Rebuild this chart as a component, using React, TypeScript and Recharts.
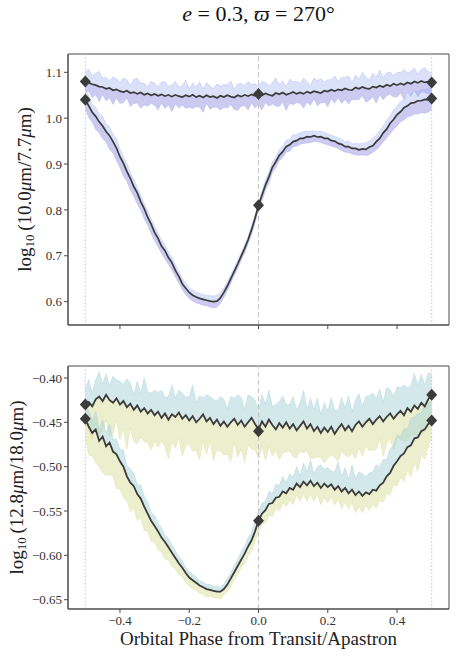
import React from 'react';
import { ComposedChart, Line, Area, Scatter, XAxis, YAxis, ReferenceLine, ReferenceArea } from 'recharts';

const phase = [
  -0.50, -0.49, -0.48, -0.47, -0.46, -0.45, -0.44, -0.43, -0.42, -0.41,
  -0.40, -0.39, -0.38, -0.37, -0.36, -0.35, -0.34, -0.33, -0.32, -0.31,
  -0.30, -0.29, -0.28, -0.27, -0.26, -0.25, -0.24, -0.23, -0.22, -0.21,
  -0.20, -0.19, -0.18, -0.17, -0.16, -0.15, -0.14, -0.13, -0.12, -0.11,
  -0.10, -0.09, -0.08, -0.07, -0.06, -0.05, -0.04, -0.03, -0.02, -0.01,
  0.00, 0.01, 0.02, 0.03, 0.04, 0.05, 0.06, 0.07, 0.08, 0.09,
  0.10, 0.11, 0.12, 0.13, 0.14, 0.15, 0.16, 0.17, 0.18, 0.19,
  0.20, 0.21, 0.22, 0.23, 0.24, 0.25, 0.26, 0.27, 0.28, 0.29,
  0.30, 0.31, 0.32, 0.33, 0.34, 0.35, 0.36, 0.37, 0.38, 0.39,
  0.40, 0.41, 0.42, 0.43, 0.44, 0.45, 0.46, 0.47, 0.48, 0.49,
  0.50,
];

// Top panel: log10(10.0um/7.7um)
const aMean = [
  1.080, 1.077, 1.074, 1.072, 1.069, 1.068, 1.064, 1.066, 1.061, 1.063,
  1.059, 1.057, 1.060, 1.055, 1.057, 1.053, 1.056, 1.051, 1.054, 1.050,
  1.053, 1.049, 1.052, 1.048, 1.051, 1.047, 1.051, 1.048, 1.046, 1.050,
  1.047, 1.051, 1.046, 1.049, 1.045, 1.050, 1.046, 1.048, 1.044, 1.049,
  1.046, 1.050, 1.047, 1.045, 1.050, 1.047, 1.051, 1.048, 1.052, 1.049,
  1.053, 1.050, 1.054, 1.051, 1.049, 1.055, 1.052, 1.056, 1.051, 1.054,
  1.057, 1.053, 1.056, 1.053, 1.058, 1.055, 1.059, 1.057, 1.055, 1.060,
  1.058, 1.062, 1.059, 1.063, 1.061, 1.065, 1.062, 1.061, 1.067, 1.064,
  1.068, 1.065, 1.064, 1.069, 1.067, 1.071, 1.068, 1.073, 1.070, 1.075,
  1.072, 1.076, 1.073, 1.078, 1.075, 1.080, 1.077, 1.081, 1.078, 1.080,
  1.078,
];
const aHi = [
  1.102, 1.107, 1.092, 1.098, 1.102, 1.088, 1.089, 1.082, 1.090, 1.086,
  1.078, 1.088, 1.084, 1.072, 1.085, 1.087, 1.077, 1.077, 1.069, 1.080,
  1.076, 1.068, 1.079, 1.080, 1.069, 1.072, 1.080, 1.068, 1.070, 1.083,
  1.064, 1.077, 1.068, 1.079, 1.064, 1.078, 1.070, 1.064, 1.075, 1.070,
  1.073, 1.073, 1.081, 1.063, 1.075, 1.076, 1.071, 1.080, 1.074, 1.075,
  1.070, 1.080, 1.078, 1.070, 1.077, 1.088, 1.073, 1.081, 1.069, 1.085,
  1.080, 1.080, 1.076, 1.087, 1.080, 1.071, 1.088, 1.082, 1.086, 1.079,
  1.084, 1.084, 1.092, 1.081, 1.089, 1.089, 1.092, 1.078, 1.094, 1.085,
  1.100, 1.090, 1.083, 1.098, 1.090, 1.105, 1.088, 1.099, 1.101, 1.093,
  1.100, 1.100, 1.106, 1.099, 1.102, 1.110, 1.096, 1.106, 1.110, 1.102,
  1.098,
];
const aLo = [
  1.056, 1.059, 1.045, 1.051, 1.036, 1.051, 1.038, 1.044, 1.030, 1.044,
  1.032, 1.034, 1.044, 1.025, 1.032, 1.033, 1.022, 1.029, 1.026, 1.032,
  1.028, 1.018, 1.033, 1.021, 1.029, 1.014, 1.031, 1.022, 1.029, 1.021,
  1.024, 1.021, 1.025, 1.024, 1.013, 1.032, 1.019, 1.024, 1.024, 1.018,
  1.024, 1.022, 1.030, 1.019, 1.017, 1.026, 1.027, 1.018, 1.033, 1.022,
  1.030, 1.018, 1.034, 1.026, 1.031, 1.026, 1.026, 1.034, 1.017, 1.033,
  1.029, 1.034, 1.032, 1.022, 1.035, 1.028, 1.042, 1.027, 1.033, 1.035,
  1.025, 1.042, 1.033, 1.045, 1.032, 1.041, 1.031, 1.040, 1.040, 1.041,
  1.049, 1.035, 1.039, 1.047, 1.033, 1.051, 1.040, 1.049, 1.052, 1.046,
  1.046, 1.055, 1.041, 1.055, 1.048, 1.061, 1.047, 1.057, 1.056, 1.052,
  1.053,
];
const bMean = [
  1.040, 1.027, 1.013, 1.004, 0.992, 0.983, 0.971, 0.962, 0.949, 0.935,
  0.916, 0.902, 0.884, 0.869, 0.851, 0.837, 0.818, 0.803, 0.784, 0.769,
  0.751, 0.738, 0.721, 0.711, 0.696, 0.685, 0.668, 0.655, 0.639, 0.629,
  0.620, 0.614, 0.610, 0.607, 0.605, 0.603, 0.601, 0.600, 0.601, 0.608,
  0.620, 0.634, 0.650, 0.666, 0.682, 0.699, 0.716, 0.735, 0.757, 0.782,
  0.810, 0.832, 0.854, 0.872, 0.893, 0.905, 0.919, 0.927, 0.938, 0.942,
  0.949, 0.951, 0.956, 0.956, 0.960, 0.959, 0.962, 0.959, 0.960, 0.956,
  0.956, 0.951, 0.950, 0.945, 0.943, 0.938, 0.938, 0.934, 0.934, 0.931,
  0.933, 0.932, 0.937, 0.940, 0.949, 0.956, 0.968, 0.976, 0.989, 0.997,
  1.008, 1.014, 1.023, 1.027, 1.033, 1.034, 1.038, 1.038, 1.041, 1.040,
  1.043,
];
const bHi = [
  1.058, 1.049, 1.029, 1.024, 1.009, 1.004, 0.986, 0.981, 0.965, 0.955,
  0.933, 0.916, 0.902, 0.882, 0.867, 0.849, 0.833, 0.814, 0.798, 0.781,
  0.764, 0.749, 0.735, 0.723, 0.709, 0.696, 0.680, 0.665, 0.651, 0.640,
  0.630, 0.625, 0.620, 0.618, 0.615, 0.614, 0.613, 0.612, 0.614, 0.620,
  0.630, 0.643, 0.659, 0.674, 0.691, 0.707, 0.724, 0.742, 0.765, 0.789,
  0.818, 0.841, 0.865, 0.882, 0.905, 0.916, 0.932, 0.939, 0.952, 0.954,
  0.964, 0.964, 0.968, 0.971, 0.971, 0.972, 0.972, 0.971, 0.971, 0.969,
  0.966, 0.963, 0.960, 0.957, 0.954, 0.948, 0.950, 0.944, 0.945, 0.944,
  0.945, 0.946, 0.950, 0.956, 0.963, 0.973, 0.983, 0.995, 1.005, 1.018,
  1.026, 1.036, 1.040, 1.050, 1.052, 1.058, 1.058, 1.063, 1.062, 1.066,
  1.065,
];
const bLo = [
  1.020, 1.001, 0.991, 0.975, 0.968, 0.955, 0.948, 0.932, 0.924, 0.908,
  0.892, 0.874, 0.862, 0.843, 0.830, 0.813, 0.799, 0.781, 0.766, 0.748,
  0.734, 0.719, 0.705, 0.693, 0.681, 0.669, 0.654, 0.640, 0.626, 0.615,
  0.607, 0.602, 0.597, 0.595, 0.592, 0.591, 0.588, 0.586, 0.588, 0.596,
  0.609, 0.624, 0.640, 0.657, 0.672, 0.690, 0.706, 0.726, 0.746, 0.772,
  0.798, 0.819, 0.843, 0.858, 0.881, 0.892, 0.908, 0.914, 0.926, 0.928,
  0.938, 0.939, 0.943, 0.945, 0.946, 0.947, 0.949, 0.948, 0.947, 0.944,
  0.942, 0.939, 0.937, 0.934, 0.929, 0.926, 0.925, 0.922, 0.920, 0.919,
  0.920, 0.918, 0.921, 0.925, 0.931, 0.939, 0.948, 0.957, 0.966, 0.976,
  0.983, 0.992, 0.996, 1.003, 1.005, 1.009, 1.009, 1.012, 1.011, 1.013,
  1.019,
];

// Bottom panel: log10(12.8um/18.0um)
const cMean = [
  -0.430, -0.427, -0.432, -0.424, -0.421, -0.426, -0.419, -0.425, -0.428, -0.423,
  -0.430, -0.426, -0.433, -0.429, -0.436, -0.431, -0.438, -0.434, -0.440, -0.436,
  -0.442, -0.438, -0.445, -0.440, -0.447, -0.441, -0.444, -0.439, -0.446, -0.442,
  -0.448, -0.443, -0.450, -0.446, -0.441, -0.449, -0.445, -0.452, -0.447, -0.454,
  -0.449, -0.455, -0.450, -0.446, -0.453, -0.448, -0.455, -0.450, -0.445, -0.452,
  -0.458, -0.449, -0.455, -0.447, -0.453, -0.458, -0.451, -0.456, -0.450, -0.457,
  -0.452, -0.459, -0.454, -0.449, -0.457, -0.452, -0.460, -0.455, -0.462, -0.456,
  -0.461, -0.455, -0.463, -0.457, -0.452, -0.459, -0.454, -0.460, -0.453, -0.449,
  -0.455, -0.450, -0.446, -0.452, -0.447, -0.443, -0.449, -0.444, -0.440, -0.446,
  -0.441, -0.437, -0.442, -0.434, -0.438, -0.431, -0.435, -0.428, -0.432, -0.424,
  -0.419,
];
const cHi = [
  -0.412, -0.402, -0.417, -0.402, -0.393, -0.407, -0.395, -0.409, -0.398, -0.402,
  -0.404, -0.407, -0.401, -0.406, -0.419, -0.404, -0.417, -0.400, -0.416, -0.417,
  -0.414, -0.416, -0.414, -0.422, -0.421, -0.408, -0.423, -0.414, -0.417, -0.422,
  -0.421, -0.408, -0.428, -0.420, -0.422, -0.419, -0.421, -0.424, -0.426, -0.421,
  -0.424, -0.435, -0.421, -0.423, -0.419, -0.422, -0.436, -0.419, -0.421, -0.425,
  -0.436, -0.419, -0.430, -0.414, -0.432, -0.430, -0.427, -0.420, -0.430, -0.430,
  -0.421, -0.436, -0.428, -0.414, -0.435, -0.423, -0.435, -0.423, -0.441, -0.428,
  -0.437, -0.422, -0.436, -0.437, -0.422, -0.434, -0.420, -0.438, -0.425, -0.418,
  -0.432, -0.421, -0.420, -0.417, -0.423, -0.413, -0.427, -0.411, -0.413, -0.421,
  -0.410, -0.411, -0.408, -0.411, -0.409, -0.395, -0.408, -0.396, -0.408, -0.394,
  -0.397,
];
const cLo = [
  -0.452, -0.457, -0.470, -0.450, -0.466, -0.459, -0.447, -0.466, -0.463, -0.447,
  -0.469, -0.457, -0.480, -0.456, -0.472, -0.474, -0.467, -0.472, -0.473, -0.481,
  -0.472, -0.478, -0.471, -0.477, -0.491, -0.472, -0.479, -0.467, -0.488, -0.476,
  -0.475, -0.482, -0.482, -0.492, -0.471, -0.486, -0.470, -0.493, -0.481, -0.483,
  -0.487, -0.486, -0.494, -0.473, -0.489, -0.480, -0.495, -0.476, -0.480, -0.481,
  -0.491, -0.476, -0.493, -0.477, -0.488, -0.482, -0.492, -0.485, -0.483, -0.483,
  -0.489, -0.490, -0.482, -0.485, -0.482, -0.491, -0.490, -0.489, -0.489, -0.496,
  -0.490, -0.487, -0.489, -0.494, -0.483, -0.487, -0.489, -0.484, -0.491, -0.479,
  -0.488, -0.477, -0.482, -0.481, -0.481, -0.468, -0.488, -0.475, -0.468, -0.481,
  -0.467, -0.469, -0.471, -0.471, -0.465, -0.464, -0.465, -0.464, -0.460, -0.455,
  -0.444,
];
const dMean = [
  -0.446, -0.455, -0.462, -0.458, -0.471, -0.466, -0.477, -0.473, -0.483, -0.486,
  -0.494, -0.500, -0.511, -0.518, -0.522, -0.531, -0.536, -0.545, -0.553, -0.561,
  -0.567, -0.573, -0.580, -0.585, -0.591, -0.597, -0.603, -0.609, -0.614, -0.620,
  -0.625, -0.628, -0.631, -0.634, -0.636, -0.638, -0.639, -0.640, -0.641, -0.641,
  -0.638, -0.633, -0.626, -0.619, -0.612, -0.605, -0.598, -0.590, -0.583, -0.573,
  -0.561, -0.553, -0.549, -0.542, -0.541, -0.535, -0.534, -0.528, -0.530, -0.524,
  -0.526, -0.519, -0.523, -0.517, -0.521, -0.516, -0.522, -0.518, -0.524, -0.519,
  -0.523, -0.520, -0.526, -0.522, -0.528, -0.524, -0.530, -0.526, -0.532, -0.528,
  -0.533, -0.529, -0.531, -0.526, -0.527, -0.521, -0.518, -0.511, -0.507, -0.499,
  -0.494, -0.488, -0.485, -0.478, -0.476, -0.468, -0.467, -0.460, -0.458, -0.452,
  -0.448,
];
const dHi = [
  -0.434, -0.437, -0.448, -0.438, -0.458, -0.447, -0.462, -0.452, -0.469, -0.469,
  -0.481, -0.481, -0.499, -0.502, -0.508, -0.520, -0.521, -0.533, -0.540, -0.551,
  -0.555, -0.564, -0.569, -0.577, -0.581, -0.588, -0.595, -0.602, -0.606, -0.614,
  -0.618, -0.622, -0.624, -0.629, -0.630, -0.633, -0.633, -0.635, -0.635, -0.636,
  -0.632, -0.626, -0.620, -0.611, -0.605, -0.596, -0.590, -0.580, -0.574, -0.562,
  -0.551, -0.541, -0.539, -0.528, -0.530, -0.520, -0.521, -0.511, -0.518, -0.508,
  -0.512, -0.500, -0.510, -0.496, -0.506, -0.492, -0.508, -0.500, -0.498, -0.503,
  -0.501, -0.505, -0.506, -0.495, -0.511, -0.501, -0.514, -0.498, -0.513, -0.506,
  -0.508, -0.511, -0.507, -0.506, -0.498, -0.500, -0.492, -0.492, -0.480, -0.476,
  -0.464, -0.466, -0.457, -0.458, -0.445, -0.444, -0.440, -0.439, -0.429, -0.427,
  -0.425,
];
const dLo = [
  -0.466, -0.487, -0.488, -0.496, -0.500, -0.507, -0.510, -0.509, -0.511, -0.525,
  -0.525, -0.535, -0.538, -0.551, -0.547, -0.561, -0.558, -0.572, -0.573, -0.585,
  -0.585, -0.594, -0.596, -0.604, -0.605, -0.613, -0.615, -0.622, -0.624, -0.631,
  -0.634, -0.638, -0.639, -0.643, -0.644, -0.647, -0.646, -0.648, -0.648, -0.649,
  -0.645, -0.641, -0.635, -0.627, -0.622, -0.614, -0.609, -0.600, -0.595, -0.584,
  -0.574, -0.565, -0.563, -0.555, -0.556, -0.547, -0.550, -0.541, -0.545, -0.538,
  -0.543, -0.532, -0.539, -0.531, -0.539, -0.531, -0.539, -0.531, -0.543, -0.535,
  -0.541, -0.534, -0.543, -0.537, -0.547, -0.540, -0.548, -0.540, -0.552, -0.545,
  -0.552, -0.544, -0.549, -0.542, -0.547, -0.538, -0.540, -0.530, -0.532, -0.520,
  -0.522, -0.512, -0.517, -0.504, -0.511, -0.496, -0.505, -0.487, -0.491, -0.477,
  -0.468,
];

const markerPhases = [-0.5, 0, 0.5];
const aMarks = [1.080, 1.053, 1.078];
const bMarks = [1.040, 0.810, 1.043];
const cMarks = [-0.430, -0.460, -0.419];
const dMarks = [-0.446, -0.561, -0.448];

const xTicks = [-0.4, -0.2, 0, 0.2, 0.4];
const topYTicks = [0.6, 0.7, 0.8, 0.9, 1.0, 1.1];
const bottomYTicks = [-0.65, -0.6, -0.55, -0.5, -0.45, -0.4];
const refPhases = [-0.5, 0.5];

const X_DOMAIN: [number, number] = [-0.55, 0.55];
const TOP_DOMAIN: [number, number] = [0.549, 1.14];
const BOTTOM_DOMAIN: [number, number] = [-0.6605, -0.3865];

const FONT = "'Liberation Serif', 'DejaVu Serif', serif";
const LINE = '#3b3b3b';
const SPINE = '#4a4a4a';
const BLUE = '#9aa9f0';
const PURPLE = '#a58ed9';
const TEAL = '#a8d2d8';
const OLIVE = '#dde2a6';

const topRows = phase.map((x, i) => ({
  x,
  aMean: aMean[i], aHi: aHi[i], aLo: aLo[i],
  bMean: bMean[i], bHi: bHi[i], bLo: bLo[i],
}));
const bottomRows = phase.map((x, i) => ({
  x,
  cMean: cMean[i], cHi: cHi[i], cLo: cLo[i],
  dMean: dMean[i], dHi: dHi[i], dLo: dLo[i],
}));
const marks = (vals: number[]) => markerPhases.map((x, i) => ({ x, y: vals[i] }));

const Diamond = (props: any) => {
  const { cx, cy } = props;
  if (cx == null || cy == null) return null;
  const w = 5.5, h = 6;
  return <polygon points={`${cx},${cy - h} ${cx + w},${cy} ${cx},${cy + h} ${cx - w},${cy}`} fill={LINE} />;
};

const fmtX = (v: number) => (Math.abs(v) < 1e-9 ? '0.0' : (v < 0 ? '\u2212' : '') + Math.abs(v).toFixed(1));
const fmtTop = (v: number) => v.toFixed(1);
const fmtBottom = (v: number) => (v < 0 ? '\u2212' : '') + Math.abs(v).toFixed(2);

const tickStyle = { fontFamily: FONT, fontSize: 13, fill: '#333' };

const YLabel = (props: any) => {
  const { viewBox, num, den, off } = props;
  const cx = viewBox.x + off;
  const cy = viewBox.y + viewBox.height / 2;
  return (
    <text x={cx} y={cy} transform={`rotate(-90, ${cx}, ${cy})`} textAnchor="middle" dominantBaseline="central"
      fontFamily={FONT} fontSize={19} fill="#222">
      <tspan>log</tspan>
      <tspan dy={5} fontSize={13}>10</tspan>
      <tspan dy={-5}>{'\u2009(' + num}</tspan>
      <tspan fontStyle="italic">μ</tspan>
      <tspan>{'m/' + den}</tspan>
      <tspan fontStyle="italic">μ</tspan>
      <tspan>m)</tspan>
    </text>
  );
};

const XLabel = (props: any) => {
  const { viewBox } = props;
  return (
    <text x={viewBox.x + viewBox.width / 2} y={viewBox.y + 36} textAnchor="middle" fontFamily={FONT} fontSize={19} fill="#222">
      Orbital Phase from Transit/Apastron
    </text>
  );
};

const refLines = () => [
  ...refPhases.map((p) => (
    <ReferenceLine key={'r' + p} x={p} stroke="#c8c8c8" strokeWidth={1} strokeDasharray="1.5 2" />
  )),
  <ReferenceLine key="r0" x={0} stroke="#c4c4c4" strokeWidth={1} strokeDasharray="5 3" />,
];

export default function App() {
  return (
    <div style={{ position: 'absolute', left: 0, top: 0, width: 463, height: 656, background: '#fff' }}>
      <div style={{ position: 'absolute', left: 0, top: 3, width: 517, textAlign: 'center', fontFamily: FONT, fontSize: 22, lineHeight: '22px', color: '#111' }}>
        <i>e</i> = 0.3, <i>ϖ</i> = 270°
      </div>

      <div style={{ position: 'absolute', left: 0, top: 0 }}>
        <ComposedChart width={463} height={340} data={topRows} margin={{ top: 54, right: 14, bottom: 0, left: 0 }}>
          {refLines()}
          <XAxis dataKey="x" type="number" domain={X_DOMAIN} allowDataOverflow ticks={xTicks} tickFormatter={() => ''}
            height={15} tickSize={4} axisLine={{ stroke: SPINE }} tickLine={{ stroke: SPINE }} />
          <YAxis type="number" domain={TOP_DOMAIN} allowDataOverflow ticks={topYTicks} tickFormatter={fmtTop}
            width={68} tickSize={4} tickMargin={2} tick={tickStyle} axisLine={{ stroke: SPINE }} tickLine={{ stroke: SPINE }}
            label={<YLabel num="10.0" den="7.7" off={24} />} />
          <Area dataKey={(d: any) => [d.aLo, d.aHi]} fill={BLUE} fillOpacity={0.35} stroke={BLUE} strokeOpacity={0.45} strokeWidth={0.7} isAnimationActive={false} />
          <Area dataKey={(d: any) => [d.aLo, d.aMean]} fill={PURPLE} fillOpacity={0.28} stroke="none" isAnimationActive={false} />
          <Area dataKey={(d: any) => [d.bLo, d.bHi]} fill={BLUE} fillOpacity={0.35} stroke={BLUE} strokeOpacity={0.45} strokeWidth={0.7} isAnimationActive={false} />
          <Area dataKey={(d: any) => [d.bLo, d.bMean]} fill={PURPLE} fillOpacity={0.28} stroke="none" isAnimationActive={false} />
          <Line dataKey="aMean" stroke={LINE} strokeWidth={1.7} dot={false} activeDot={false} isAnimationActive={false} />
          <Line dataKey="bMean" stroke={LINE} strokeWidth={1.7} dot={false} activeDot={false} isAnimationActive={false} />
          <Scatter data={marks(aMarks)} dataKey="y" shape={Diamond} isAnimationActive={false} />
          <Scatter data={marks(bMarks)} dataKey="y" shape={Diamond} isAnimationActive={false} />
          <ReferenceArea x1={X_DOMAIN[0]} x2={X_DOMAIN[1]} y1={TOP_DOMAIN[0]} y2={TOP_DOMAIN[1]} fill="none" stroke={SPINE} strokeWidth={1} />
        </ComposedChart>
      </div>

      <div style={{ position: 'absolute', left: 0, top: 340 }}>
        <ComposedChart width={463} height={316} data={bottomRows} margin={{ top: 26, right: 14, bottom: 0, left: 0 }}>
          {refLines()}
          <XAxis dataKey="x" type="number" domain={X_DOMAIN} allowDataOverflow ticks={xTicks} tickFormatter={fmtX}
            height={47} tickSize={4} tickMargin={3} tick={tickStyle} axisLine={{ stroke: SPINE }} tickLine={{ stroke: SPINE }}
            label={<XLabel />} />
          <YAxis type="number" domain={BOTTOM_DOMAIN} allowDataOverflow ticks={bottomYTicks} tickFormatter={fmtBottom}
            width={68} tickSize={4} tickMargin={2} tick={tickStyle} axisLine={{ stroke: SPINE }} tickLine={{ stroke: SPINE }}
            label={<YLabel num="12.8" den="18.0" off={16} />} />
          <Area dataKey={(d: any) => [d.cMean, d.cHi]} fill={TEAL} fillOpacity={0.5} stroke={TEAL} strokeOpacity={0.6} strokeWidth={0.7} isAnimationActive={false} />
          <Area dataKey={(d: any) => [d.cLo, d.cMean]} fill={OLIVE} fillOpacity={0.55} stroke={OLIVE} strokeOpacity={0.7} strokeWidth={0.7} isAnimationActive={false} />
          <Area dataKey={(d: any) => [d.dMean, d.dHi]} fill={TEAL} fillOpacity={0.5} stroke={TEAL} strokeOpacity={0.6} strokeWidth={0.7} isAnimationActive={false} />
          <Area dataKey={(d: any) => [d.dLo, d.dMean]} fill={OLIVE} fillOpacity={0.55} stroke={OLIVE} strokeOpacity={0.7} strokeWidth={0.7} isAnimationActive={false} />
          <Line dataKey="cMean" stroke={LINE} strokeWidth={1.8} dot={false} activeDot={false} isAnimationActive={false} />
          <Line dataKey="dMean" stroke={LINE} strokeWidth={1.8} dot={false} activeDot={false} isAnimationActive={false} />
          <Scatter data={marks(cMarks)} dataKey="y" shape={Diamond} isAnimationActive={false} />
          <Scatter data={marks(dMarks)} dataKey="y" shape={Diamond} isAnimationActive={false} />
          <ReferenceArea x1={X_DOMAIN[0]} x2={X_DOMAIN[1]} y1={BOTTOM_DOMAIN[0]} y2={BOTTOM_DOMAIN[1]} fill="none" stroke={SPINE} strokeWidth={1} />
        </ComposedChart>
      </div>
    </div>
  );
}
